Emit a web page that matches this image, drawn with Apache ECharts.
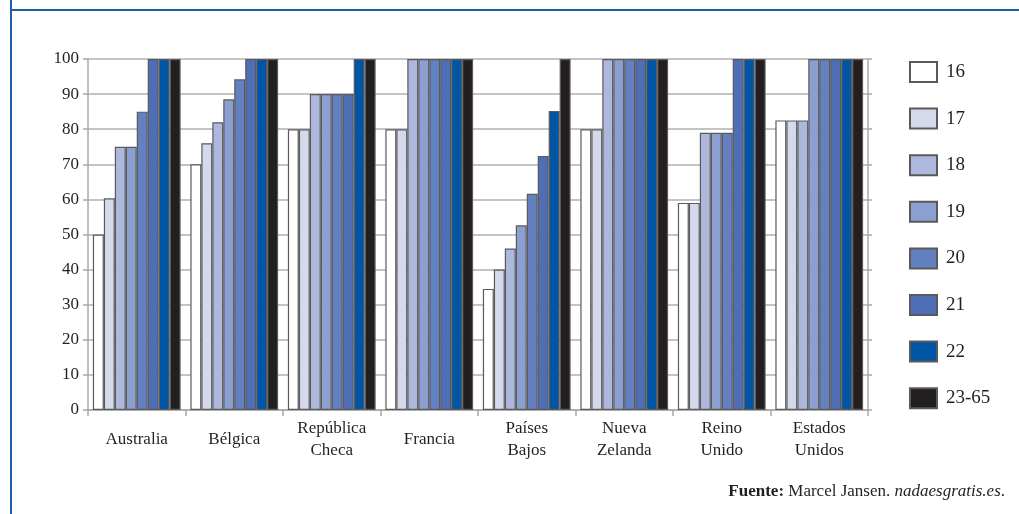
<!DOCTYPE html>
<html><head><meta charset="utf-8">
<script src="https://cdn.jsdelivr.net/npm/echarts@6/dist/echarts.min.js"></script>
<style>html,body{margin:0;padding:0;background:#fff}#c{width:1019px;height:514px}</style>
</head><body><div id="c"></div>
<script>
const categories = ['Australia','Bélgica','República\nCheca','Francia','Países\nBajos','Nueva\nZelanda','Reino\nUnido','Estados\nUnidos'];
const seriesNames = ['16','17','18','19','20','21','22','23-65'];
const colors = ['#ffffff','#d4d9ec','#aeb8dc','#8b9fd0','#6380c0','#4e6fb5','#0055a5','#231f20'];
const v16 = [50, 70, 80, 80, 34.5, 80, 59, 82.5];
const v17 = [60.3, 76, 80, 80, 40, 80, 59, 82.5];
const v18 = [75, 82, 90, 100, 46, 100, 79, 82.5];
const v19 = [75, 88.5, 90, 100, 52.6, 100, 79, 100];
const v20 = [85, 94.2, 90, 100, 61.6, 100, 79, 100];
const v21 = [100, 100, 90, 100, 72.4, 100, 100, 100];
const v22 = [100, 100, 100, 100, 85.2, 100, 100, 100];
const v23 = [100, 100, 100, 100, 100, 100, 100, 100];
const yTicks = [0,10,20,30,40,50,60,70,80,90,100];
const allValues = [v16,v17,v18,v19,v20,v21,v22,v23];

const font = '"Liberation Serif", "DejaVu Serif", serif';
const chart = echarts.init(document.getElementById('c'));
chart.setOption({
  animation: false,
  textStyle: {fontFamily: font},
  graphic: [
    {type:'line', shape:{x1:11, y1:0, x2:11, y2:514}, style:{stroke:'#1f5fa8', lineWidth:2}},
    {type:'line', shape:{x1:10, y1:10, x2:1019, y2:10}, style:{stroke:'#1f5fa8', lineWidth:2}},
    {type:'text', right:14, top:483, style:{
      text:'{b|Fuente:} Marcel Jansen. {i|nadaesgratis.es}.',
      font:'17px ' + font, fill:'#231f20',
      rich:{b:{fontWeight:'bold', fontSize:17, fontFamily:font, fill:'#231f20'}, i:{fontStyle:'italic', fontSize:17, fontFamily:font, fill:'#231f20'}}
    }}
  ],
  grid: {left: 88, right: 151, top: 59, bottom: 104},
  legend: {
    orient:'vertical', left: 904, top: 56,
    icon:'rect',
    itemWidth: 27, itemHeight: 20, itemGap: 24.6,
    textStyle: {fontFamily: font, fontSize: 19, color:'#231f20', padding:[0,0,0,4]},
    data: seriesNames
  },
  xAxis: {
    type:'category', data: categories,
    axisLine:{lineStyle:{color:'#a8a8a8', width:1.5}},
    axisTick:{show:true, length:6, lineStyle:{color:'#a8a8a8', width:1.5}},
    axisLabel:{color:'#231f20', fontSize:17, fontFamily:font, margin:30, lineHeight:22, interval:0, verticalAlign:'middle'}
  },
  yAxis: [{
    type:'value', min:0, max:100, interval:10,
    axisLine:{show:true, lineStyle:{color:'#a8a8a8', width:1.5}},
    axisTick:{show:true, length:5, lineStyle:{color:'#a8a8a8', width:1.5}},
    splitLine:{lineStyle:{color:'#b0b0b0', width:1.5}},
    axisLabel:{color:'#231f20', fontSize:17, fontFamily:font, margin:9,
      formatter: v => yTicks.includes(v) ? String(v) : ''}
  },{
    type:'value', min:0, max:100, interval:10, position:'right',
    axisLine:{show:true, lineStyle:{color:'#a8a8a8', width:1.5}},
    axisTick:{show:true, inside:false, length:4, lineStyle:{color:'#a8a8a8', width:1.5}},
    splitLine:{show:false}, axisLabel:{show:false}
  }],
  series: seriesNames.map((n,i)=>({
    name:n, type:'bar', data: allValues[i], yAxisIndex:0,
    barGap:'0%', barCategoryGap:'10%',
    itemStyle:{color:colors[i], borderColor:'#5a5a5a', borderWidth:1.2}
  }))
});
</script></body></html>
